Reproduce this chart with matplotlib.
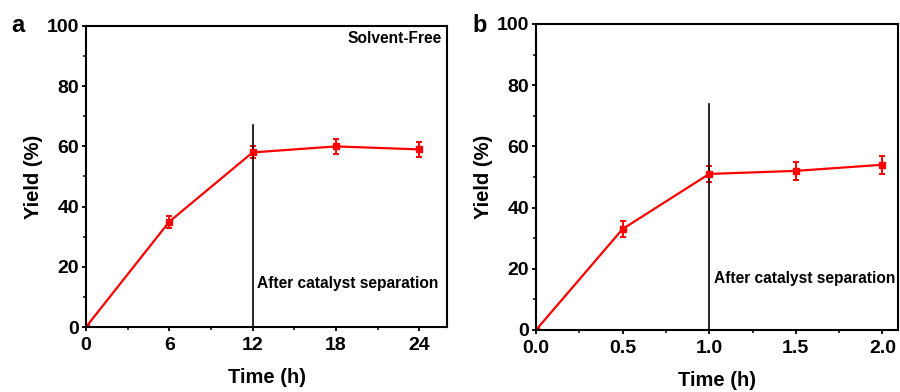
import matplotlib
matplotlib.use("Agg")
import matplotlib.pyplot as plt
from matplotlib.ticker import MultipleLocator, AutoMinorLocator, FormatStrFormatter

plt.rcParams["font.family"] = ["Liberation Sans", "DejaVu Sans"]
plt.rcParams["font.weight"] = "bold"

# panel a: solvent-free
time_a = [0, 6, 12, 18, 24]
yield_a = [0, 35, 58, 60, 59]
err_a = [0, 2, 2, 2.5, 2.5]
sep_a = 12
sep_top_a = 67

# panel b
time_b = [0, 0.5, 1.0, 1.5, 2.0]
yield_b = [0, 33, 51, 52, 54]
err_b = [0, 2.5, 2.5, 3, 3]
sep_b = 1.0
sep_top_b = 74

fig = plt.figure(figsize=(9, 3.92), dpi=100)
ax_a = fig.add_axes([86 / 900, 1 - 327 / 392, 361 / 900, 301 / 392])
ax_b = fig.add_axes([536 / 900, 1 - 330 / 392, 362 / 900, 306 / 392])


def style(ax, xlim, xstep):
    ax.set_xlim(*xlim)
    ax.set_ylim(0, 100)
    ax.xaxis.set_major_locator(MultipleLocator(xstep))
    ax.xaxis.set_minor_locator(AutoMinorLocator(2))
    ax.yaxis.set_major_locator(MultipleLocator(20))
    ax.yaxis.set_minor_locator(AutoMinorLocator(2))
    ax.tick_params(which="major", length=3, width=1.3, labelsize=14)
    ax.tick_params(axis="y", which="major", pad=2)
    ax.tick_params(axis="x", which="major", pad=4.5)
    ax.tick_params(which="minor", length=2, width=1.1)
    for s in ax.spines.values():
        s.set_linewidth(1.5)
    ax.set_xlabel("Time (h)", fontsize=14.5, fontweight="bold", labelpad=10)
    ax.set_ylabel("Yield (%)", fontsize=14.5, fontweight="bold", labelpad=3)


ax_a.errorbar(time_a, yield_a, yerr=err_a, color="#ff0000", marker="s", markersize=4,
              capsize=2.5, lw=1.6, elinewidth=1.4, capthick=1.4)
ax_a.plot([sep_a, sep_a], [0, sep_top_a], color="black", lw=1.2)
style(ax_a, (0, 26), 6)
ax_a.text(12.3, 14.5, "After catalyst separation", fontsize=11.2, va="center")
ax_a.text(25.6, 96, "Solvent-Free", fontsize=11.2, ha="right", va="center")
fig.text(11 / 900, 1 - 25 / 392, "a", fontsize=17, fontweight="bold", va="center")

ax_b.errorbar(time_b, yield_b, yerr=err_b, color="#ff0000", marker="s", markersize=4,
              capsize=2.5, lw=1.6, elinewidth=1.4, capthick=1.4)
ax_b.plot([sep_b, sep_b], [0, sep_top_b], color="black", lw=1.2)
style(ax_b, (0, 2.09), 0.5)
ax_b.xaxis.set_major_formatter(FormatStrFormatter("%.1f"))
ax_b.text(1.03, 16.7, "After catalyst separation", fontsize=11.2, va="center")
fig.text(472 / 900, 1 - 25 / 392, "b", fontsize=17, fontweight="bold", va="center")

fig.savefig("out.png", dpi=100)
